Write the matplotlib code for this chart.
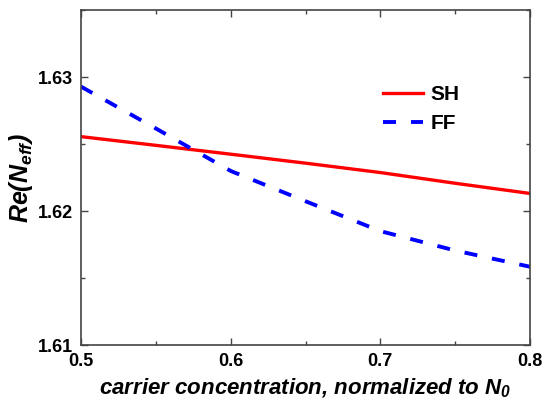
import numpy as np
import matplotlib
matplotlib.use("Agg")
import matplotlib.pyplot as plt
from matplotlib.ticker import MultipleLocator

# values
conc = [0.5, 0.55, 0.6, 0.65, 0.7, 0.75, 0.8]
sh = [1.62555, 1.62490, 1.62424, 1.62357, 1.62287, 1.62207, 1.62131]
ff = [1.62928, 1.62616, 1.62299, 1.62073, 1.61850, 1.61705, 1.61584]

plt.rcParams['font.family'] = 'Liberation Sans'
plt.rcParams['font.weight'] = 'bold'
plt.rcParams['mathtext.fontset'] = 'custom'
plt.rcParams['mathtext.rm'] = 'Liberation Sans:bold:italic'
plt.rcParams['mathtext.it'] = 'Liberation Sans:bold:italic'
plt.rcParams['mathtext.bf'] = 'Liberation Sans:bold:italic'

fig = plt.figure(figsize=(5.43, 4.0), dpi=100)
# axes box: left 81px, right 530px, top 10px, bottom 345px
ax = fig.add_axes([81 / 543, 55 / 400, 449 / 543, 335 / 400])

ax.plot(conc, sh, color='#ff0000', lw=2.4, label='SH')
ax.plot(conc, ff, color='#0000ff', lw=2.8, dashes=(3.35, 3.85), label='FF')

ax.set_xlim(0.5, 0.8)
ax.set_ylim(1.61, 1.635)
ax.xaxis.set_minor_locator(MultipleLocator(0.05))
ax.yaxis.set_minor_locator(MultipleLocator(0.005))
ax.set_yticks([1.61, 1.62, 1.63])
ax.set_yticklabels(['1.61', '1.62', '1.63'])
ax.set_xticks([0.5, 0.6, 0.7, 0.8])
ax.set_xticklabels(['0.5', '0.6', '0.7', '0.8'])

ax.tick_params(which='both', direction='in', top=True, right=True,
               colors='#444444', labelcolor='black', labelsize=13)
ax.tick_params(axis='x', which='major', pad=6)
ax.tick_params(axis='y', which='major', pad=6)
ax.tick_params(which='major', length=5, width=1)
ax.tick_params(which='minor', length=3, width=1)
for s in ax.spines.values():
    s.set_color('#444444')
    s.set_linewidth(1.2)

ax.set_xlabel('carrier concentration, normalized to $N_0$',
              fontsize=16, fontweight='bold', fontstyle='italic', labelpad=5)
ax.set_ylabel('$Re(N_{eff})$', fontsize=18, labelpad=2)

ax.legend(loc='upper left', bbox_to_anchor=(0.655, 0.80), frameon=False,
          fontsize=15, handlelength=1.92, handletextpad=0.34, labelspacing=0.46,
          borderaxespad=0)

fig.savefig('out.png', dpi=100)
